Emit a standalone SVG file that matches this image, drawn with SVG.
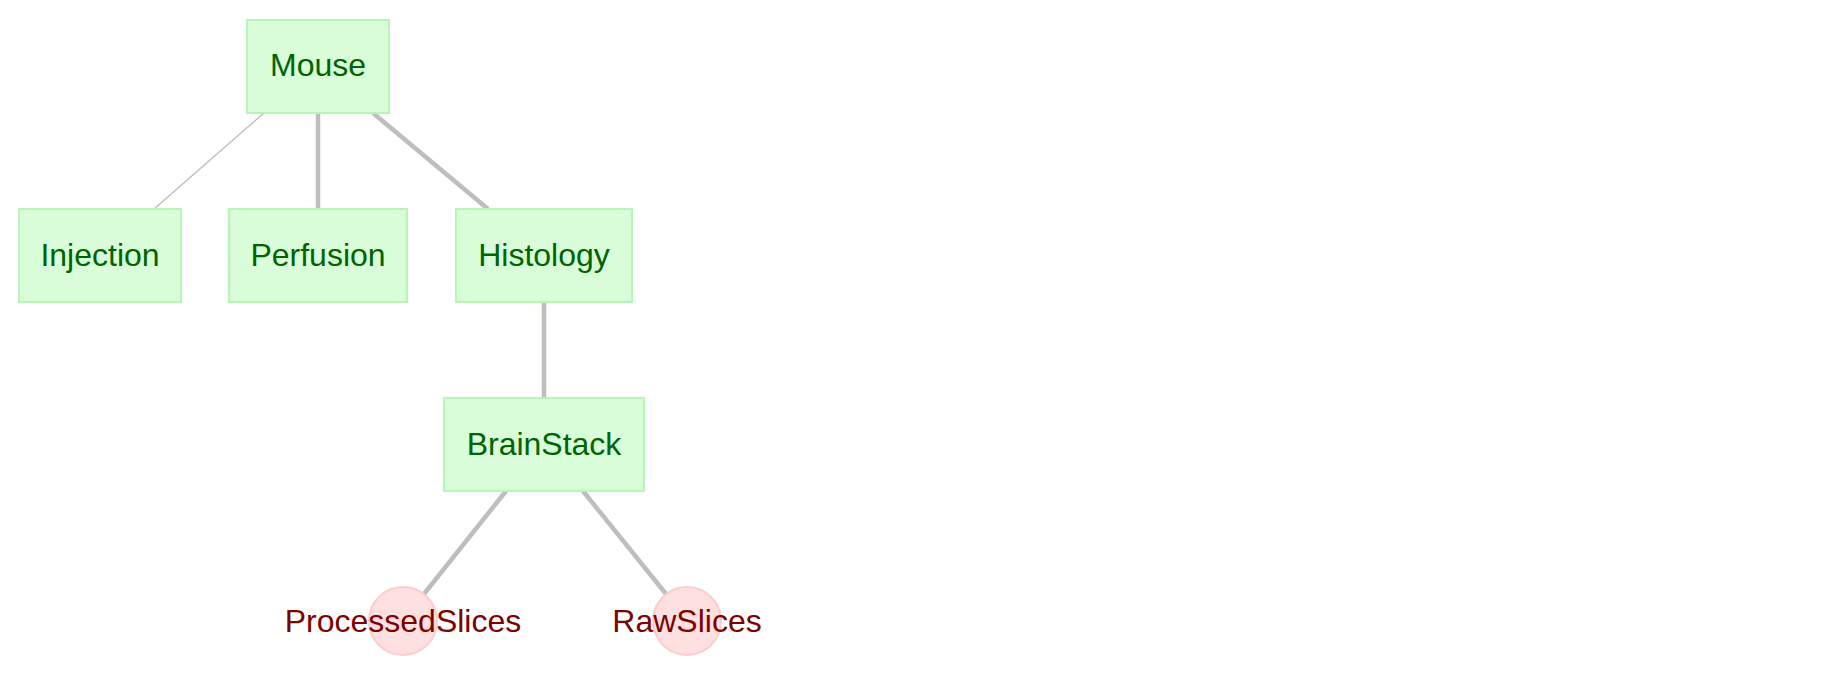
<svg xmlns="http://www.w3.org/2000/svg" width="1842" height="676" viewBox="0 0 1842 676">
<style>
.box{fill:#d8fdd8;stroke:#b8f5b8;stroke-width:2}
.circ{fill:#ffe0e0;stroke:#ffcccc;stroke-width:2}
.lbl{font-family:"Liberation Sans",Arial,sans-serif;font-size:32px;text-anchor:middle}
.g{fill:#006400}
.r{fill:#800000}
.e{stroke:#bebebe;fill:none}
.thick{stroke-width:4.5}
.thin{stroke-width:1.3}
</style>
<rect width="1842" height="676" fill="#ffffff"/>
<g id="connectors">
<line class="e thin" x1="264" y1="113" x2="154" y2="209"/>
<line class="e thick" x1="318" y1="113" x2="318" y2="209"/>
<line class="e thick" x1="373" y1="113" x2="488" y2="209"/>
<line class="e thick" x1="544" y1="302" x2="544" y2="398"/>
<line class="e thick" x1="506" y1="491" x2="424" y2="594"/>
<line class="e thick" x1="583" y1="491" x2="666" y2="594"/>
</g>
<g id="Mouse">
<rect class="box" x="247" y="20" width="142" height="93"/>
<text class="lbl g" x="318" y="76">Mouse</text>
</g>
<g id="Injection">
<rect class="box" x="19" y="209" width="162" height="93"/>
<text class="lbl g" x="100" y="266">Injection</text>
</g>
<g id="Perfusion">
<rect class="box" x="229" y="209" width="178" height="93"/>
<text class="lbl g" x="318" y="266">Perfusion</text>
</g>
<g id="Histology">
<rect class="box" x="456" y="209" width="176" height="93"/>
<text class="lbl g" x="544" y="266">Histology</text>
</g>
<g id="BrainStack">
<rect class="box" x="444" y="398" width="200" height="93"/>
<text class="lbl g" x="544" y="455">BrainStack</text>
</g>
<g id="ProcessedSlices">
<circle class="circ" cx="403" cy="621" r="34"/>
<text class="lbl r" x="403" y="632">ProcessedSlices</text>
</g>
<g id="RawSlices">
<circle class="circ" cx="687" cy="621" r="34"/>
<text class="lbl r" x="687" y="632">RawSlices</text>
</g>
</svg>
